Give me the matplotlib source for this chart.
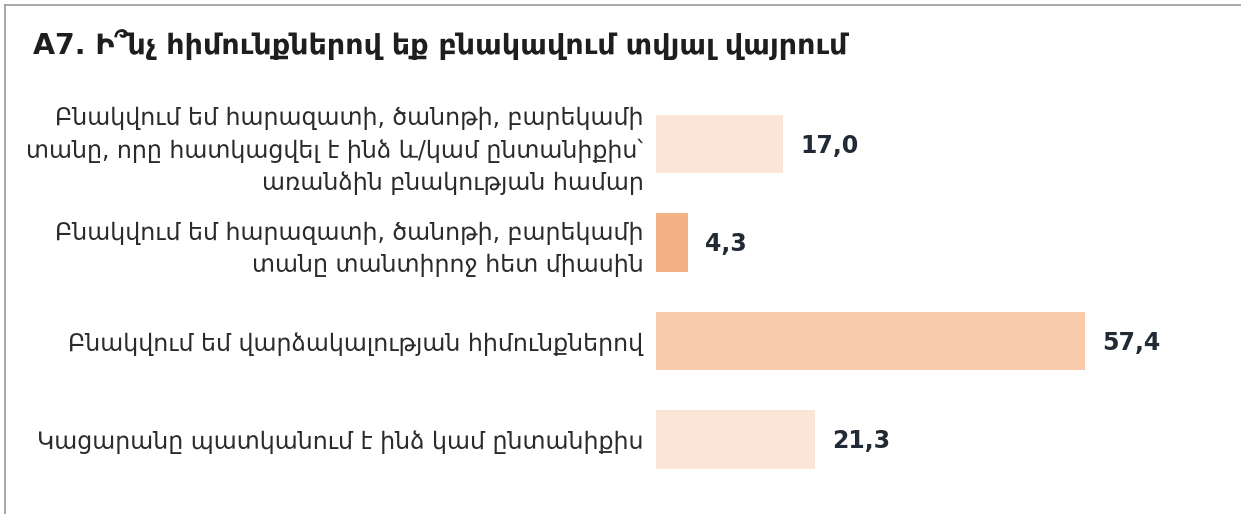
import numpy as np
import matplotlib.pyplot as plt
from matplotlib.lines import Line2D

plt.rcParams['font.family'] = ['DejaVu Sans']

title = "A7. Ի՞նչ հիմունքներով եք բնակավում տվյալ վայրում"
labels = [
    "Բնակվում եմ հարազատի, ծանոթի, բարեկամի\nտանը, որը հատկացվել է ինձ և/կամ ընտանիքիս՝\nառանձին բնակության համար",
    "Բնակվում եմ հարազատի, ծանոթի, բարեկամի\nտանը տանտիրոջ հետ միասին",
    "Բնակվում եմ վարձակալության հիմունքներով",
    "Կացարանը պատկանում է ինձ կամ ընտանիքիս",
]
values = [17.0, 4.3, 57.4, 21.3]
colors = ['#FBE5D6', '#F4B183', '#F8CBAD', '#FBE5D6']

W, H = 1241, 514
fig = plt.figure(figsize=(W / 100, H / 100), dpi=100)

# axes placed in pixel terms
x0, x1 = 656, 1241
y_top, y_bot = 94.75, 488.75
ax = fig.add_axes([x0 / W, 1 - y_bot / H, (x1 - x0) / W, (y_bot - y_top) / H])

pos = np.arange(len(values))
ax.barh(pos, values, height=0.595, color=colors)
ax.set_xlim(0, (x1 - x0) / 7.47)
ax.set_ylim(3.5, -0.5)

for p, v in zip(pos, values):
    ax.text(v + 2.3, p + 0.02, f"{v:.1f}".replace('.', ','), va='center', ha='left',
            fontsize=17, fontweight='bold', color='#222A35')

ax.set_yticks(pos)
ax.set_yticklabels(labels, fontsize=17, color='#2b2b2b', linespacing=1.42)
ax.tick_params(axis='y', length=0, pad=9)
ax.set_xticks([])
for s in ax.spines.values():
    s.set_visible(False)

fig.text(33 / W, 1 - 45 / H, title, fontsize=20.5, fontweight='bold', color='#1e1e1e',
         ha='left', va='center')

# frame lines on top and left
fig.add_artist(Line2D([5 / W, 1], [1 - 5 / H, 1 - 5 / H], color='#9a9a9a', lw=1.2))
fig.add_artist(Line2D([5 / W, 5 / W], [1 - 5 / H, 0], color='#9a9a9a', lw=1.2))

fig.savefig('out.png', dpi=100)
